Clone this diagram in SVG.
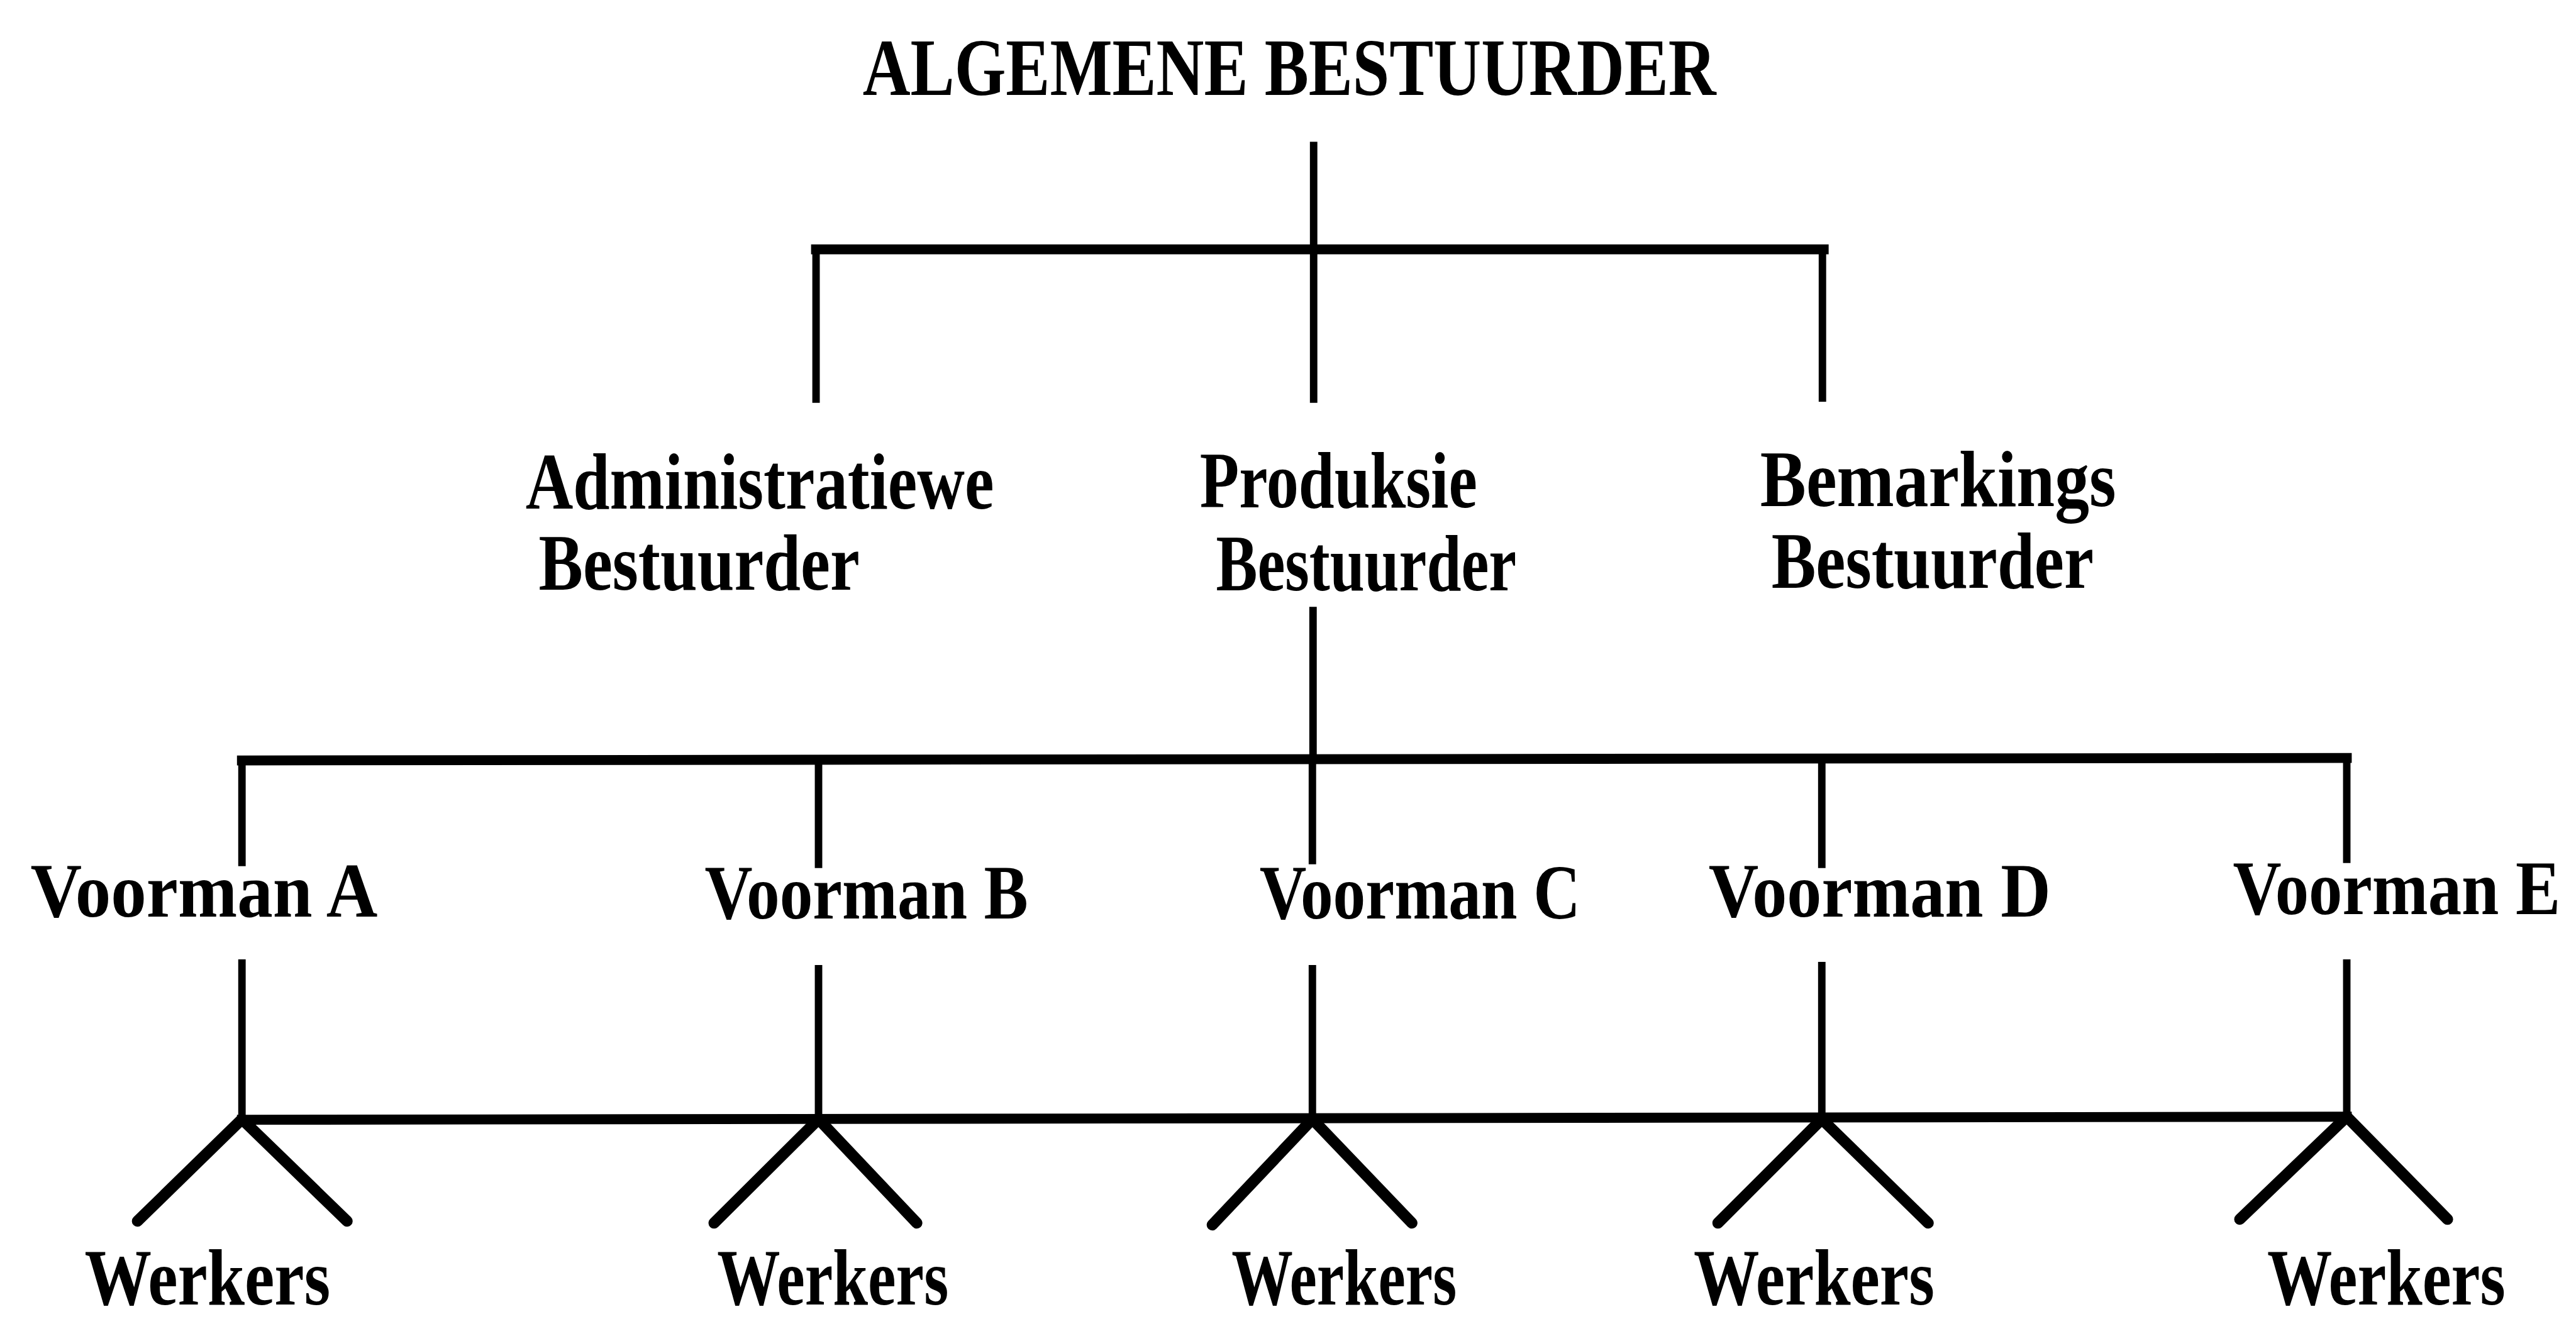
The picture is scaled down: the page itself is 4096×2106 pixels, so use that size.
<svg xmlns="http://www.w3.org/2000/svg" width="4096" height="2106" viewBox="0 0 4096 2106">
<style>
  .t { font-family: "Liberation Serif", "Times New Roman", serif; font-weight: bold; fill: #000; }
  .h { stroke: #000; stroke-width: 16; fill: none; stroke-linecap: square; }
  .v { stroke: #000; stroke-width: 12; fill: none; }
  .d { stroke: #000; stroke-width: 18; fill: none; stroke-linecap: round; }
</style>
<rect width="4096" height="2106" fill="#fff"/>
<g transform="scale(0.989)">
  <g id="connectors">
    <line class="v" x1="2112" y1="228" x2="2112" y2="401"/>
    <line class="h" x1="1312" y1="401" x2="2932" y2="401"/>
    <line class="v" x1="1312" y1="401" x2="1312" y2="648"/>
    <line class="v" x1="2112" y1="401" x2="2112" y2="648"/>
    <line class="v" x1="2930" y1="401" x2="2930" y2="646"/>
    <line class="v" x1="2111" y1="976" x2="2111" y2="1222"/>
    <line class="h" x1="389" y1="1223" x2="3773" y2="1219"/>
    <line class="v" x1="389" y1="1222" x2="389" y2="1393"/>
    <line class="v" x1="1316" y1="1222" x2="1316" y2="1396"/>
    <line class="v" x1="2110" y1="1222" x2="2110" y2="1390"/>
    <line class="v" x1="2929" y1="1222" x2="2929" y2="1396"/>
    <line class="v" x1="3773" y1="1219" x2="3773" y2="1388"/>
    <line class="v" x1="389" y1="1543" x2="389" y2="1800"/>
    <line class="v" x1="1316" y1="1552" x2="1316" y2="1800"/>
    <line class="v" x1="2110" y1="1552" x2="2110" y2="1800"/>
    <line class="v" x1="2929" y1="1547" x2="2929" y2="1800"/>
    <line class="v" x1="3773" y1="1543" x2="3773" y2="1796"/>
    <line class="h" x1="389" y1="1801" x2="3773" y2="1796"/>
    <polyline class="d" points="221,1964 389,1800 558,1964"/>
    <polyline class="d" points="1148,1967 1316,1800 1474,1967"/>
    <polyline class="d" points="1949,1970 2110,1800 2270,1967"/>
    <polyline class="d" points="2762,1967 2929,1800 3100,1967"/>
    <polyline class="d" points="3601,1961 3773,1796 3935,1961"/>
  </g>
  <g id="algemene-bestuurder">
    <text class="t" x="1387" y="153" font-size="130" textLength="1372" lengthAdjust="spacingAndGlyphs">ALGEMENE BESTUURDER</text>
  </g>
  <g id="administratiewe-bestuurder">
    <text class="t" x="845" y="818" font-size="128" textLength="753" lengthAdjust="spacingAndGlyphs">Administratiewe</text>
    <text class="t" x="866" y="948" font-size="128" textLength="516" lengthAdjust="spacingAndGlyphs">Bestuurder</text>
  </g>
  <g id="produksie-bestuurder">
    <text class="t" x="1929" y="816" font-size="128" textLength="446" lengthAdjust="spacingAndGlyphs">Produksie</text>
    <text class="t" x="1955" y="949" font-size="128" textLength="483" lengthAdjust="spacingAndGlyphs">Bestuurder</text>
  </g>
  <g id="bemarkings-bestuurder">
    <text class="t" x="2830" y="814" font-size="128" textLength="572" lengthAdjust="spacingAndGlyphs">Bemarkings</text>
    <text class="t" x="2848" y="945" font-size="128" textLength="518" lengthAdjust="spacingAndGlyphs">Bestuurder</text>
  </g>
  <g id="voorman-a"><text class="t" x="49" y="1474" font-size="124" textLength="558" lengthAdjust="spacingAndGlyphs">Voorman A</text></g>
  <g id="voorman-b"><text class="t" x="1133" y="1477" font-size="124" textLength="520" lengthAdjust="spacingAndGlyphs">Voorman B</text></g>
  <g id="voorman-c"><text class="t" x="2025" y="1477" font-size="124" textLength="516" lengthAdjust="spacingAndGlyphs">Voorman C</text></g>
  <g id="voorman-d"><text class="t" x="2747" y="1474" font-size="124" textLength="550" lengthAdjust="spacingAndGlyphs">Voorman D</text></g>
  <g id="voorman-e"><text class="t" transform="translate(3590,1470) scale(0.87,1)" x="0" y="0" font-size="124">Voorman E</text></g>
  <g id="werkers-a"><text class="t" x="136" y="2098" font-size="128" textLength="395" lengthAdjust="spacingAndGlyphs">Werkers</text></g>
  <g id="werkers-b"><text class="t" x="1153" y="2098" font-size="128" textLength="372" lengthAdjust="spacingAndGlyphs">Werkers</text></g>
  <g id="werkers-c"><text class="t" x="1980" y="2098" font-size="128" textLength="362" lengthAdjust="spacingAndGlyphs">Werkers</text></g>
  <g id="werkers-d"><text class="t" x="2723" y="2098" font-size="128" textLength="387" lengthAdjust="spacingAndGlyphs">Werkers</text></g>
  <g id="werkers-e"><text class="t" x="3645" y="2098" font-size="128" textLength="383" lengthAdjust="spacingAndGlyphs">Werkers</text></g>
</g>
</svg>
